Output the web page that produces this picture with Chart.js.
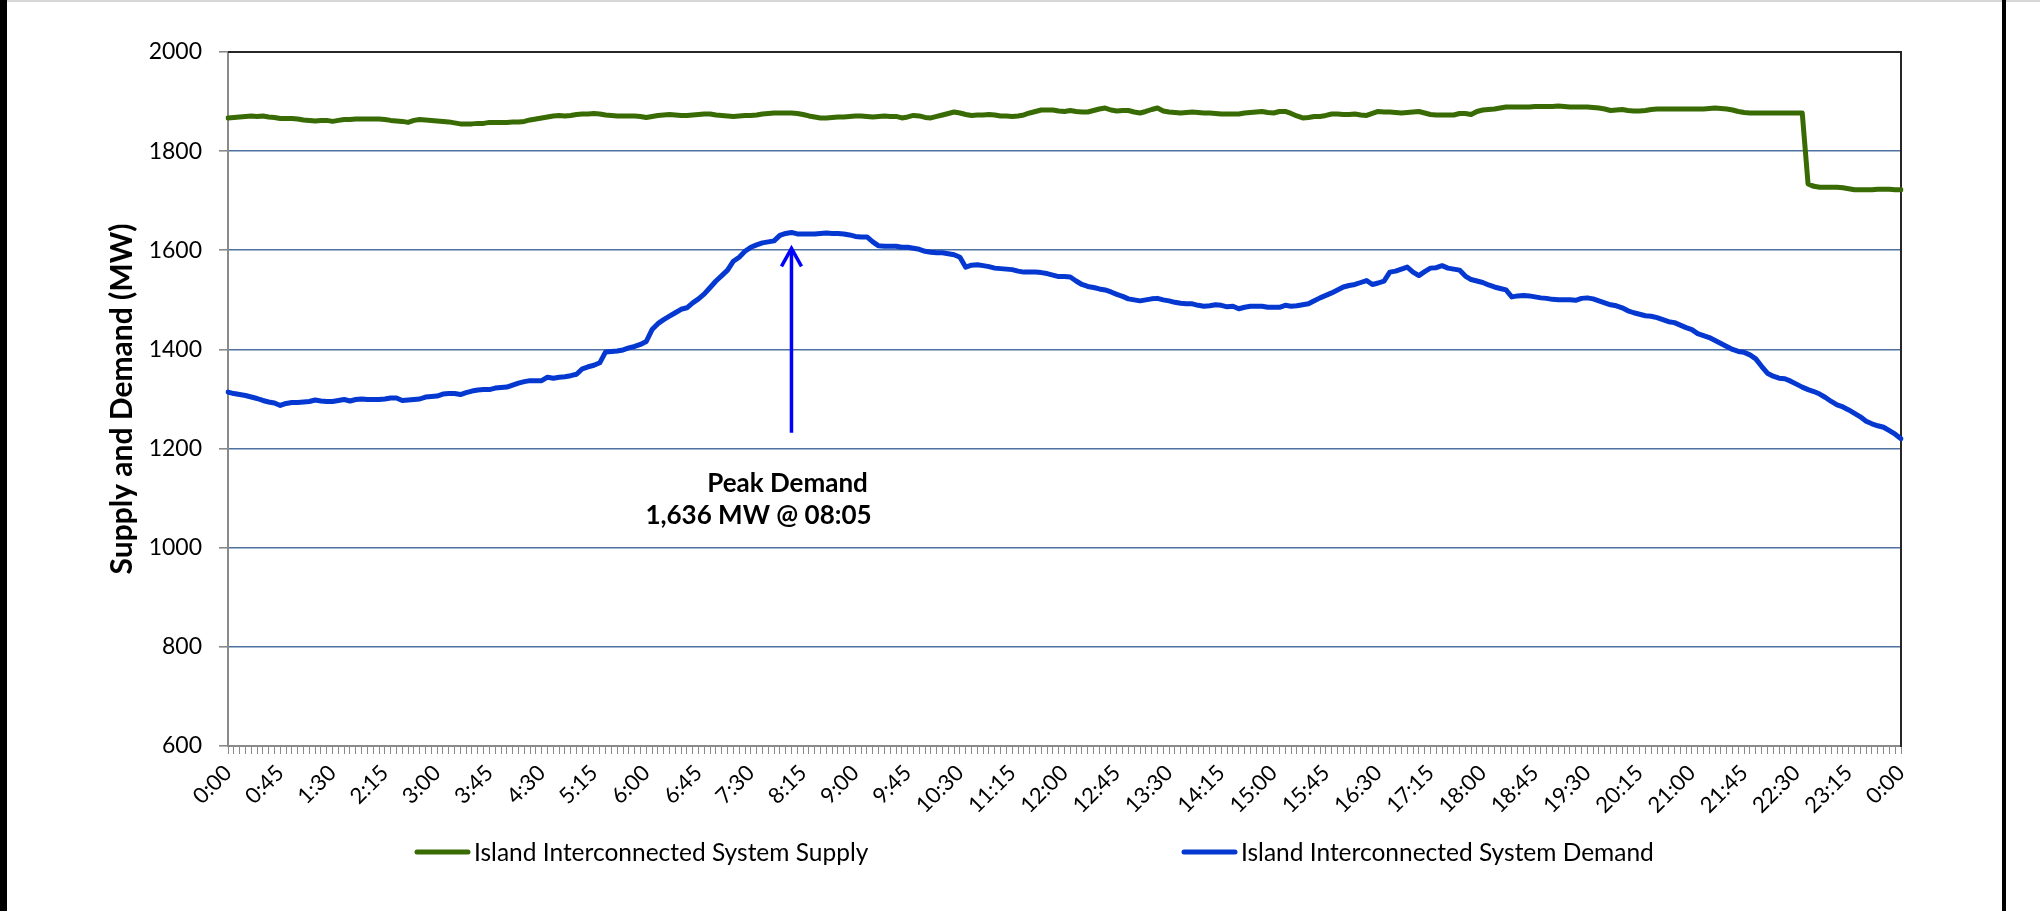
<!DOCTYPE html>
<html>
<head>
<meta charset="utf-8">
<title>Island Interconnected System Supply and Demand</title>
<script src="https://cdn.jsdelivr.net/npm/chart.js@4.4.1/dist/chart.umd.min.js"></script>
<style>
  html, body { margin: 0; padding: 0; background: #fff; overflow: hidden; }
  #chartBox { width: 2040px; height: 911px; }
</style>
</head>
<body>
<div id="chartBox"><canvas id="supplyDemandChart" width="2040" height="911"></canvas></div>
<script>
// 5-minute readings, 0:00 to 0:00 next day (289 points)
const tickLabels = ['0:00', '0:45', '1:30', '2:15', '3:00', '3:45', '4:30', '5:15', '6:00', '6:45', '7:30',
    '8:15', '9:00', '9:45', '10:30', '11:15', '12:00', '12:45', '13:30', '14:15', '15:00', '15:45',
    '16:30', '17:15', '18:00', '18:45', '19:30', '20:15', '21:00', '21:45', '22:30', '23:15', '0:00'];
const tickEvery = 9;

const supplyMW = [
    1867, 1868, 1869, 1870, 1871, 1870, 1871, 1869, 1868, 1866, 1866, 1866,
    1865, 1863, 1862, 1861, 1862, 1862, 1860, 1862, 1864, 1864, 1865, 1865,
    1865, 1865, 1865, 1864, 1862, 1861, 1860, 1858, 1862, 1864, 1863, 1862,
    1861, 1860, 1859, 1857, 1855, 1855, 1855, 1856, 1856, 1858, 1858, 1858,
    1858, 1859, 1859, 1860, 1863, 1865, 1867, 1869, 1871, 1872, 1871, 1872,
    1874, 1875, 1875, 1876, 1875, 1873, 1872, 1871, 1871, 1871, 1871, 1870,
    1868, 1870, 1872, 1873, 1874, 1873, 1872, 1872, 1873, 1874, 1875, 1875,
    1873, 1872, 1871, 1870, 1871, 1872, 1872, 1873, 1875, 1876, 1877, 1877,
    1877, 1877, 1876, 1874, 1871, 1869, 1867, 1867, 1868, 1869, 1869, 1870,
    1871, 1871, 1870, 1869, 1870, 1871, 1870, 1870, 1867, 1869, 1872, 1871,
    1868, 1867, 1870, 1873, 1876, 1879, 1877, 1874, 1872, 1873, 1873, 1874,
    1873, 1871, 1871, 1870, 1871, 1873, 1877, 1880, 1883, 1883, 1883, 1881,
    1880, 1882, 1880, 1879, 1879, 1882, 1885, 1887, 1883, 1881, 1882, 1882,
    1879, 1877, 1880, 1884, 1887, 1881, 1879, 1878, 1877, 1878, 1879, 1878,
    1877, 1877, 1876, 1875, 1875, 1875, 1875, 1877, 1878, 1879, 1880, 1878,
    1877, 1880, 1880, 1876, 1871, 1867, 1868, 1870, 1870, 1872, 1875, 1875,
    1874, 1874, 1875, 1873, 1872, 1876, 1880, 1879, 1879, 1878, 1877, 1878,
    1879, 1880, 1877, 1874, 1873, 1873, 1873, 1873, 1876, 1876, 1874, 1880,
    1883, 1884, 1885, 1887, 1889, 1889, 1889, 1889, 1889, 1890, 1890, 1890,
    1890, 1891, 1890, 1889, 1889, 1889, 1889, 1888, 1887, 1885, 1882, 1883,
    1884, 1882, 1881, 1881, 1882, 1884, 1885, 1885, 1885, 1885, 1885, 1885,
    1885, 1885, 1885, 1886, 1887, 1886, 1885, 1883, 1880, 1878, 1877, 1877,
    1877, 1877, 1877, 1877, 1877, 1877, 1877, 1877, 1734, 1729, 1727, 1727,
    1727, 1727, 1726, 1724, 1722, 1722, 1722, 1722, 1723, 1723, 1723, 1722,
    1722
];

const demandMW = [
    1314, 1311, 1309, 1307, 1304, 1301, 1297, 1294, 1292, 1287, 1291, 1293,
    1293, 1294, 1295, 1298, 1296, 1295, 1295, 1297, 1299, 1296, 1299, 1300,
    1299, 1299, 1299, 1300, 1302, 1302, 1297, 1298, 1299, 1300, 1304, 1305,
    1306, 1310, 1311, 1311, 1309, 1313, 1316, 1318, 1319, 1319, 1322, 1323,
    1324, 1328, 1332, 1335, 1337, 1337, 1337, 1344, 1342, 1344, 1345, 1347,
    1350, 1361, 1365, 1368, 1373, 1395, 1396, 1397, 1399, 1403, 1406, 1410,
    1416, 1440, 1452, 1460, 1467, 1474, 1481, 1484, 1494, 1502, 1512, 1525,
    1538, 1549, 1560, 1578, 1586, 1598, 1606, 1611, 1615, 1617, 1619, 1630,
    1634, 1636, 1633, 1633, 1633, 1633, 1634, 1635, 1634, 1634, 1633, 1631,
    1628, 1627, 1627, 1617, 1609, 1608, 1608, 1608, 1606, 1606, 1604, 1602,
    1598, 1596, 1595, 1595, 1593, 1591, 1586, 1566, 1570, 1571, 1569, 1567,
    1564, 1563, 1562, 1561, 1558, 1556, 1556, 1556, 1555, 1553, 1550, 1547,
    1547, 1546, 1538, 1531, 1527, 1525, 1522, 1520, 1516, 1511, 1507, 1502,
    1500, 1498, 1500, 1502, 1503, 1500, 1498, 1495, 1493, 1492, 1492, 1489,
    1487, 1488, 1490, 1489, 1486, 1487, 1482, 1485, 1487, 1487, 1487, 1485,
    1485, 1485, 1489, 1487, 1488, 1490, 1492, 1498, 1504, 1509, 1514, 1520,
    1526, 1529, 1531, 1535, 1539, 1531, 1534, 1538, 1556, 1558, 1562, 1566,
    1556, 1549, 1557, 1564, 1565, 1569, 1564, 1562, 1560, 1548, 1541, 1538,
    1535, 1530, 1526, 1523, 1520, 1506, 1508, 1509, 1508, 1506, 1504, 1503,
    1501, 1500, 1500, 1500, 1499, 1503, 1504, 1502, 1498, 1494, 1490, 1488,
    1484, 1478, 1474, 1471, 1468, 1467, 1464, 1460, 1456, 1454, 1449, 1444,
    1440, 1432, 1428, 1424, 1418, 1412, 1406, 1400, 1396, 1394, 1389, 1381,
    1366, 1352, 1346, 1342, 1341, 1336, 1330, 1324, 1319, 1315, 1310, 1303,
    1295, 1288, 1284, 1278, 1271, 1264, 1255, 1250, 1246, 1243, 1236, 1229,
    1220
];

const seriesNames = ['Island Interconnected System Supply', 'Island Interconnected System Demand'];
const seriesColors = ['#386b04', '#0438d0'];
const yTicks = { min: 600, max: 2000, step: 200 };

const peakIndex = 97;           // 08:05
const peakText = ['Peak Demand', '1,636 MW @ 08:05'];
const arrowRange = [1606, 1232]; // arrow tip / tail, MW

// category labels: one per 5 minutes
const timeLabels = demandMW.map((_, i) => {
    const m = (i * 5) % 1440;
    return Math.floor(m / 60) + ':' + String(m % 60).padStart(2, '0');
});

const FONT = 'Lato, Carlito, Calibri, sans-serif';
const AXIS_GRAY = '#8a8a8a';

// page frame (document edge lines)
const framePlugin = {
    id: 'frame',
    beforeDraw(chart) {
        const { ctx, width, height } = chart;
        ctx.save();
        ctx.fillStyle = '#fff';
        ctx.fillRect(0, 0, width, height);
        ctx.fillStyle = '#d6d6d6';
        ctx.fillRect(0, 0, width, 2);
        ctx.fillStyle = '#000';
        ctx.fillRect(0, 0, 7, height);
        ctx.fillRect(2002, 0, 4, height);
        ctx.restore();
    }
};

// dark top and right border of the plot area
const plotBorderPlugin = {
    id: 'plotBorder',
    beforeDatasetsDraw(chart) {
        const { ctx, chartArea: a } = chart;
        ctx.save();
        ctx.strokeStyle = '#262626';
        ctx.lineWidth = 2;
        ctx.beginPath();
        ctx.moveTo(a.left, a.top);
        ctx.lineTo(a.right, a.top);
        ctx.lineTo(a.right, a.bottom + 1);
        ctx.stroke();
        ctx.restore();
    }
};

const peakArrowPlugin = {
    id: 'peakArrow',
    afterDatasetsDraw(chart) {
        const { ctx, scales: { x, y } } = chart;
        const px = x.getPixelForValue(peakIndex);
        const tip = y.getPixelForValue(arrowRange[0]);
        const tail = y.getPixelForValue(arrowRange[1]);
        ctx.save();
        ctx.strokeStyle = '#0000ff';
        ctx.lineWidth = 3.5;
        ctx.beginPath();
        ctx.moveTo(px, tail);
        ctx.lineTo(px, tip + 2);
        ctx.stroke();
        ctx.beginPath();
        ctx.moveTo(px - 10, tip + 19);
        ctx.lineTo(px, tip + 1);
        ctx.lineTo(px + 10, tip + 19);
        ctx.stroke();

        ctx.fillStyle = '#000';
        ctx.font = 'bold 26px ' + FONT;
        ctx.textAlign = 'center';
        ctx.textBaseline = 'alphabetic';
        ctx.fillText(peakText[0], px - 4, tail + 59);
        ctx.fillText(peakText[1], px - 33, tail + 91);
        ctx.restore();
    }
};

// legend laid out like the original: two widely spaced entries
const legendPlugin = {
    id: 'wideLegend',
    afterDraw(chart) {
        const { ctx } = chart;
        const spots = [415, 1182];
        const cy = 852;
        ctx.save();
        ctx.font = '24.5px ' + FONT;
        ctx.textBaseline = 'middle';
        ctx.textAlign = 'left';
        chart.data.datasets.forEach((ds, i) => {
            const x0 = spots[i];
            ctx.strokeStyle = ds.borderColor;
            ctx.lineWidth = 5;
            ctx.lineCap = 'round';
            ctx.beginPath();
            ctx.moveTo(x0 + 2, cy);
            ctx.lineTo(x0 + 53, cy);
            ctx.stroke();
            ctx.fillStyle = '#000';
            ctx.fillText(ds.label, x0 + 59, cy + 1);
        });
        ctx.restore();
    }
};

class SupplyDemandChart {
    constructor() {
        this.chart = null;
        this.initChart();
    }

    initChart() {
        const ctx = document.getElementById('supplyDemandChart').getContext('2d');
        this.chart = new Chart(ctx, {
            type: 'line',
            data: {
                labels: timeLabels,
                datasets: [supplyMW, demandMW].map((values, i) => ({
                    label: seriesNames[i],
                    data: values,
                    borderColor: seriesColors[i],
                    backgroundColor: seriesColors[i],
                    borderWidth: 5,
                    pointRadius: 0,
                    pointHoverRadius: 0,
                    tension: 0,
                    borderJoinStyle: 'round',
                    borderCapStyle: 'round',
                    fill: false
                }))
            },
            options: {
                responsive: false,
                animation: false,
                devicePixelRatio: 1,
                layout: { padding: { top: 52, right: 139, bottom: 0, left: 0 } },
                plugins: {
                    legend: { display: false },
                    tooltip: { enabled: false }
                },
                scales: {
                    x: {
                        type: 'category',
                        offset: false,
                        afterFit: (scale) => { scale.height = 165; },
                        grid: {
                            drawOnChartArea: false,
                            drawTicks: true,
                            tickLength: 8,
                            tickColor: AXIS_GRAY,
                            tickWidth: 1
                        },
                        border: { color: AXIS_GRAY, width: 2 },
                        ticks: {
                            autoSkip: false,
                            minRotation: 45,
                            maxRotation: 45,
                            padding: 6,
                            color: '#000',
                            font: { family: FONT, size: 22 },
                            callback: (value, index) => index % tickEvery === 0 ? tickLabels[index / tickEvery] : ''
                        }
                    },
                    y: {
                        min: yTicks.min,
                        max: yTicks.max,
                        afterFit: (scale) => { scale.width = 228; },
                        grid: {
                            color: (c) => (c.tick && (c.tick.value === yTicks.min || c.tick.value === yTicks.max)) ? 'rgba(0,0,0,0)' : '#4f71a1',
                            lineWidth: 1.6,
                            tickColor: AXIS_GRAY,
                            tickLength: 9,
                            drawTicks: true
                        },
                        border: { color: AXIS_GRAY, width: 2 },
                        ticks: {
                            stepSize: yTicks.step,
                            padding: 17,
                            color: '#000',
                            font: { family: FONT, size: 23 },
                            callback: (value) => String(value)
                        },
                        title: {
                            display: true,
                            text: 'Supply and Demand (MW)',
                            color: '#000',
                            font: { family: FONT, size: 30, weight: 'bold' },
                            padding: { top: 104, bottom: 0 }
                        }
                    }
                }
            },
            plugins: [framePlugin, plotBorderPlugin, peakArrowPlugin, legendPlugin]
        });
    }
}

new SupplyDemandChart();
</script>
</body>
</html>
